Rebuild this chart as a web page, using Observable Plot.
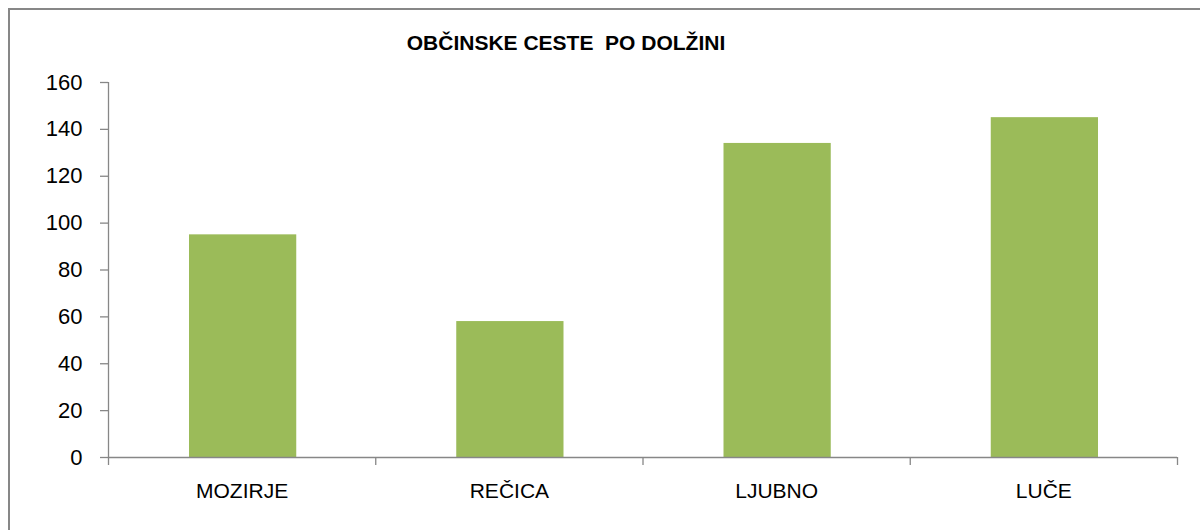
<!DOCTYPE html>
<html>
<head>
<meta charset="utf-8">
<script src="https://cdn.jsdelivr.net/npm/d3@7"></script>
<script src="https://cdn.jsdelivr.net/npm/@observablehq/plot@0.6"></script>
<style>
  html, body { margin: 0; padding: 0; background: #fff; }
  #wrap { position: relative; width: 1200px; height: 530px; overflow: hidden; }
  #frame { position: absolute; left: 8px; top: 8px; width: 1300px; height: 600px;
           border-left: 2px solid #878787; border-top: 2px solid #878787; }
  #title { position: absolute; left: 0; top: 32px; width: 1132px; text-align: center;
           font-family: "Liberation Sans", Arial, sans-serif; font-weight: bold; font-size: 21px;
           line-height: 21px; white-space: pre; color: #000; }
  #chart { position: absolute; left: 0; top: 0; }
</style>
</head>
<body>
<div id="wrap">
  <div id="frame"></div>
  <div id="chart"></div>
  <div id="title">OBČINSKE CESTE  PO DOLŽINI</div>
</div>
<script>
const categories = ["MOZIRJE", "REČICA", "LJUBNO", "LUČE"];
const values = [95, 58, 134, 145];
const yTicks = [0, 20, 40, 60, 80, 100, 120, 140, 160];

const data = categories.map((c, i) => ({cat: c, i, v: values[i]}));
const bounds = d3.range(categories.length + 1);
const axisColor = "#878787";
const font = '"Liberation Sans", Arial, sans-serif';

const chart = Plot.plot({
  width: 1200,
  height: 530,
  marginLeft: 108,
  marginRight: 23,
  marginTop: 82,
  marginBottom: 73,
  style: {fontFamily: font, background: "transparent", color: "#000"},
  x: {type: "linear", domain: [0, categories.length], axis: null},
  y: {type: "linear", domain: [0, 160], axis: null},
  marks: [
    Plot.rectY(data, {x1: "i", x2: d => d.i + 1, y1: 0, y2: "v", fill: "#9BBB59", insetLeft: 81, insetRight: 79}),
    // y axis
    Plot.ruleX([0], {x: d => d, y1: 0, y2: 160, stroke: axisColor, strokeWidth: 1.3}),
    Plot.ruleY(yTicks, {y: d => d, x1: 0, x2: 0, insetLeft: -8, stroke: axisColor, strokeWidth: 1.3}),
    Plot.text(yTicks, {x: 0, y: d => d, text: d => String(d), textAnchor: "end", dx: -26, fontSize: 22, fill: "#000"}),
    // x axis
    Plot.ruleY([0], {y: d => d, x1: 0, x2: categories.length, stroke: axisColor, strokeWidth: 1.3}),
    Plot.ruleX(bounds, {x: d => d, y1: 0, y2: 0, insetBottom: -8, stroke: axisColor, strokeWidth: 1.3}),
    Plot.text(data, {x: d => d.i + 0.5, y: 0, text: "cat", dy: 34, fontSize: 21, fill: "#000"})
  ]
});
document.getElementById("chart").appendChild(chart);
</script>
</body>
</html>
